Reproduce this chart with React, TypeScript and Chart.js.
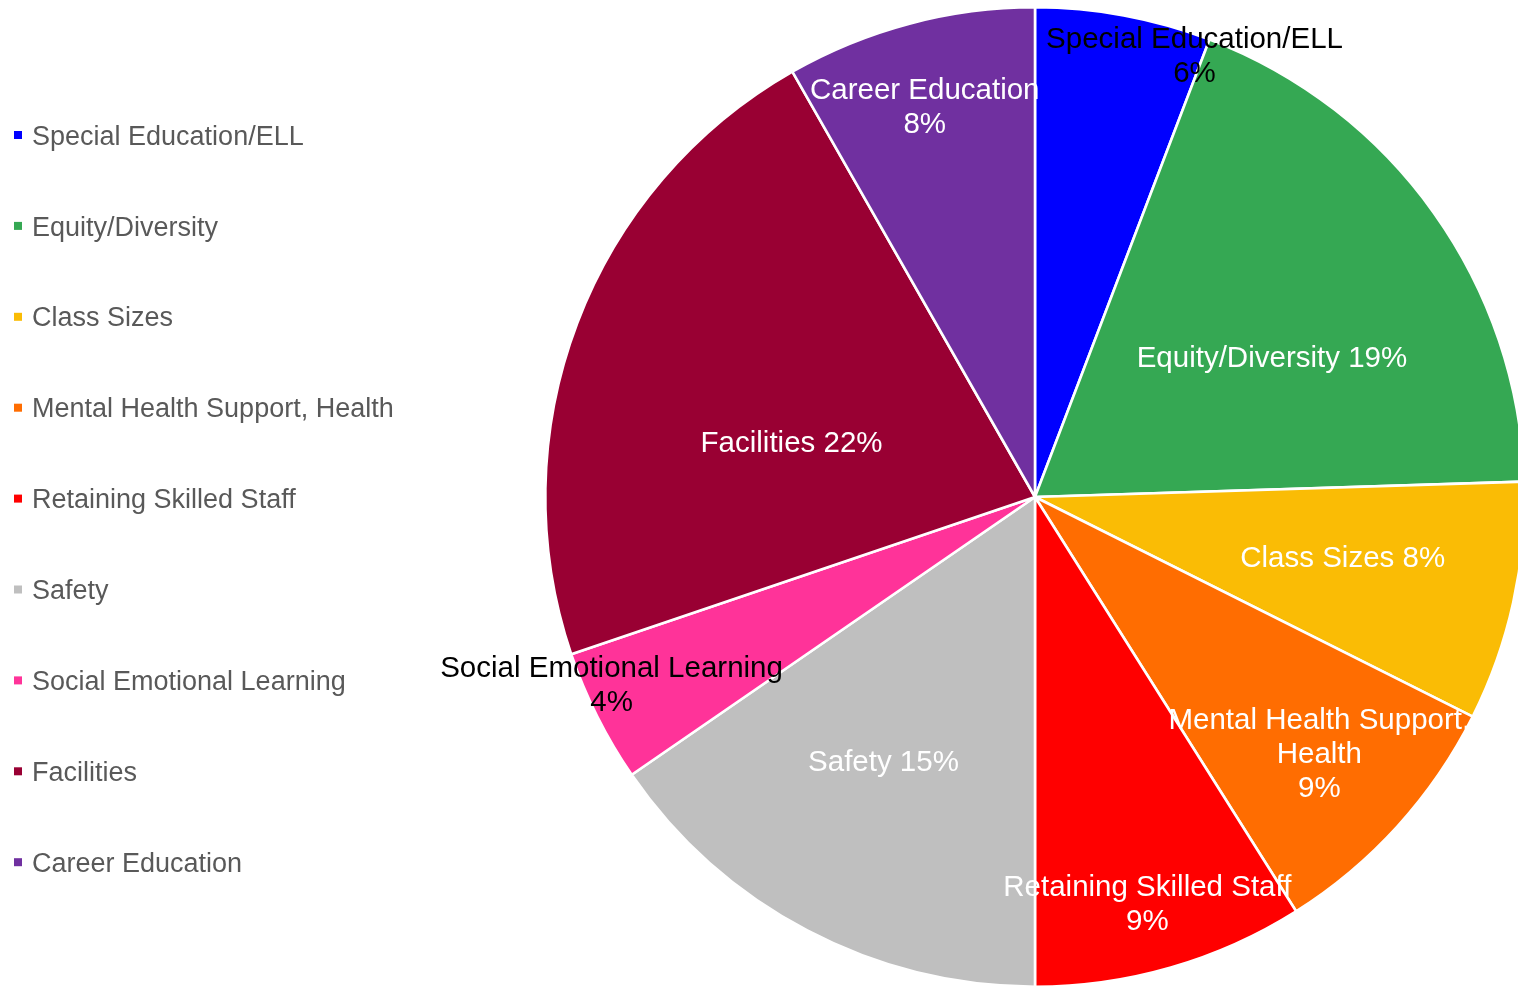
import React, { useEffect, useRef } from "react";
import { Chart, registerables } from "chart.js";

Chart.register(...registerables);

const categories = [
  "Special Education/ELL",
  "Equity/Diversity",
  "Class Sizes",
  "Mental Health Support, Health",
  "Retaining Skilled Staff",
  "Safety",
  "Social Emotional Learning",
  "Facilities",
  "Career Education",
];
const shares = [5.8, 18.7, 7.9, 8.65, 8.95, 15.4, 4.4, 21.95, 8.25];
const sliceColors = [
  "#0000FF",
  "#35A853",
  "#FABC05",
  "#FF6D01",
  "#FF0000",
  "#BFBFBF",
  "#FF3399",
  "#990033",
  "#7030A0",
];
// label layout: "inline" = name and % on one line, "break" = % on next line, "wrap" = name wrapped after comma
const labelMode = ["break", "inline", "inline", "wrap", "break", "inline", "break", "inline", "break"];
const labelTextColor = ["#000000", "#FFFFFF", "#FFFFFF", "#FFFFFF", "#FFFFFF", "#FFFFFF", "#000000", "#FFFFFF", "#FFFFFF"];
// position of the label inside its slice: fraction of slice sweep, fraction of radius
const labelAngleFrac = [0.95, 0.57, 0.45, 0.49, 0.52, 0.54, 0.68, 0.4, 0.47];
const labelRadiusFrac = [0.96, 0.563, 0.64, 0.78, 0.86, 0.62, 0.945, 0.51, 0.83];

const FONT = '"Liberation Sans", Arial, sans-serif';

function labelLines(i: number): string[] {
  const name = categories[i];
  const pct = Math.round(shares[i]) + "%";
  const mode = labelMode[i];
  if (mode === "inline") return [name + " " + pct];
  if (mode === "wrap") {
    const k = name.indexOf(",");
    return [name.slice(0, k + 1), name.slice(k + 2), pct];
  }
  return [name, pct];
}

const sliceLabelPlugin = {
  id: "sliceLabels",
  afterDatasetsDraw(chart: any) {
    const ctx = chart.ctx as CanvasRenderingContext2D;
    const meta = chart.getDatasetMeta(0);
    const size = 29.5;
    const lh = 34;
    ctx.save();
    ctx.font = `${size}px ${FONT}`;
    ctx.textAlign = "center";
    ctx.textBaseline = "alphabetic";
    meta.data.forEach((arc: any, i: number) => {
      const p = arc.getProps(["x", "y", "startAngle", "endAngle", "outerRadius"], true);
      const a = p.startAngle + labelAngleFrac[i] * (p.endAngle - p.startAngle);
      const r = labelRadiusFrac[i] * p.outerRadius;
      const cx = p.x + r * Math.cos(a);
      const cy = p.y + r * Math.sin(a);
      const lines = labelLines(i);
      ctx.fillStyle = labelTextColor[i];
      lines.forEach((ln, j) => {
        const mid = cy + (j - (lines.length - 1) / 2) * lh;
        ctx.fillText(ln, cx, mid + 0.358 * size);
      });
    });
    ctx.restore();
  },
};

const legendPlugin = {
  id: "sideLegend",
  afterDraw(chart: any) {
    const ctx = chart.ctx as CanvasRenderingContext2D;
    const size = 27;
    const x0 = 14;
    const y0 = 135;
    const step = 90.9;
    ctx.save();
    ctx.font = `${size}px ${FONT}`;
    ctx.textAlign = "left";
    ctx.textBaseline = "alphabetic";
    categories.forEach((c, i) => {
      const y = y0 + i * step;
      ctx.fillStyle = sliceColors[i];
      ctx.fillRect(x0, y - 4, 8, 8);
      ctx.fillStyle = "#595959";
      ctx.fillText(c, x0 + 18, y + 0.358 * size);
    });
    ctx.restore();
  },
};

export default function App() {
  const ref = useRef<HTMLCanvasElement | null>(null);
  useEffect(() => {
    if (!ref.current) return;
    const chart = new Chart(ref.current, {
      type: "pie",
      data: {
        labels: categories,
        datasets: [
          {
            data: shares,
            backgroundColor: sliceColors,
            borderColor: "#FFFFFF",
            borderWidth: 2.6,
          },
        ],
      },
      options: {
        animation: false,
        responsive: false,
        devicePixelRatio: 1,
        layout: { padding: { left: 544, top: 6, right: 4, bottom: 1 } },
        plugins: {
          legend: { display: false },
          tooltip: { enabled: false },
          title: { display: false },
        },
      },
      plugins: [sliceLabelPlugin, legendPlugin],
    });
    return () => chart.destroy();
  }, []);
  return (
    <div
      style={{
        position: "absolute",
        left: 0,
        top: 0,
        width: 1518,
        height: 989,
        overflow: "hidden",
        background: "#FFFFFF",
      }}
    >
      <canvas ref={ref} width={1530} height={989} style={{ display: "block", width: 1530, height: 989 }} />
    </div>
  );
}
